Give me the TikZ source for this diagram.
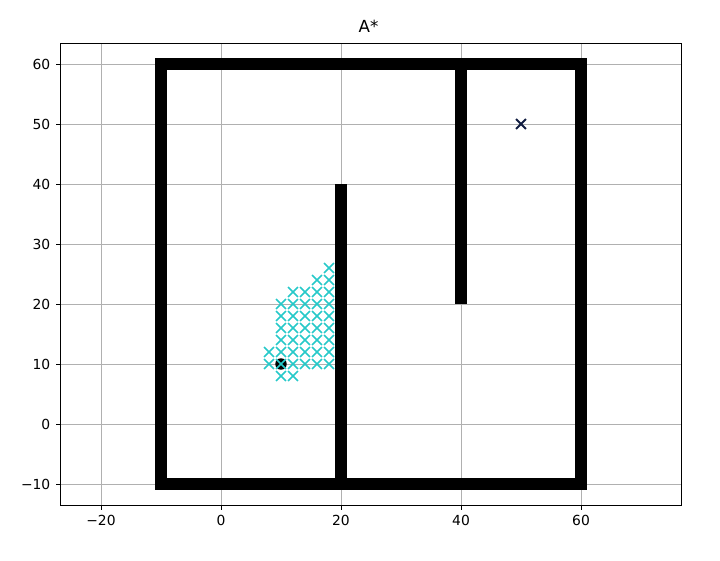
\documentclass[tikz,border=0pt]{standalone}
\usepackage{fontspec}
\setmainfont{DejaVu Sans}
\usepackage{xcolor}
\definecolor{mplcyan}{RGB}{0,191,191}
\definecolor{mplgrid}{RGB}{176,176,176}
\definecolor{goalblue}{RGB}{16,28,64}
\newcommand{\mksize}{3.7pt}
\begin{document}
\begin{tikzpicture}[x=4.5pt, y=4.5pt,
    gridline/.style={color=mplgrid, line width=0.6pt},
    wall/.style={line width=8.6pt, line join=miter},
    tickmark/.style={line width=0.7pt},
    ticklabel/.style={inner sep=0pt},
    closedx/.style={mplcyan!85, line width=1.3pt},
    goalx/.style={goalblue, line width=1.4pt},
    font=\fontsize{10.4}{12}\selectfont]
    %Bildbereich
    \useasboundingbox (-36.833,-22.667) rectangle (83.167,70.667);
    %Raster zeichnen
    \foreach \x in {-20,0,...,60} \draw[gridline] (\x,-13.5) -- (\x,63.5);
    \foreach \y in {-10,0,...,60} \draw[gridline] (-26.75,\y) -- (76.75,\y);
    %Hindernisse
    \draw[wall] (-10,-10) rectangle (60,60);
    \draw[wall] (20,-10) -- (20,40);
    \draw[wall] (40,20) -- (40,60);
    %Start
    \fill (10,10) circle (4.3pt);
    %geschlossene Knoten
    \foreach \y in {10,12,...,20}
      \foreach \x in {10,12,...,18}
        \draw[closedx] (\x,\y) +(-\mksize,-\mksize) -- +(\mksize,\mksize) +(-\mksize,\mksize) -- +(\mksize,-\mksize);
    \foreach \x/\y in {8/10, 8/12, 10/8, 12/8, 12/22, 14/22, 16/22, 18/22, 16/24, 18/24, 18/26}
      \draw[closedx] (\x,\y) +(-\mksize,-\mksize) -- +(\mksize,\mksize) +(-\mksize,\mksize) -- +(\mksize,-\mksize);
    %Ziel
    \draw[goalx] (50,50) +(-\mksize,-\mksize) -- +(\mksize,\mksize) +(-\mksize,\mksize) -- +(\mksize,-\mksize);
    %Rahmen
    \draw[line width=0.7pt] (-26.75,-13.5) rectangle (76.75,63.5);
    %Achsen beschriften
    \foreach \x/\t [count=\i] in {-20/−20, 0/0, 20/20, 40/40, 60/60}
      \draw[tickmark] (\x,-13.5) -- ++(0,-3.65pt) node[below=3.65pt, ticklabel] (xl\i) {\t};
    \foreach \y/\t [count=\i] in {-10/−10, 0/0, 10/10, 20/20, 30/30, 40/40, 50/50, 60/60}
      \draw[tickmark] (-26.75,\y) -- ++(-3.65pt,0) node[left=3.65pt, ticklabel] (yl\i) {\t};
    %Titel
    \node[anchor=base, font=\fontsize{12.5}{15}\selectfont] (title) at (24.6,65.3) {A*};
\end{tikzpicture}
\end{document}
